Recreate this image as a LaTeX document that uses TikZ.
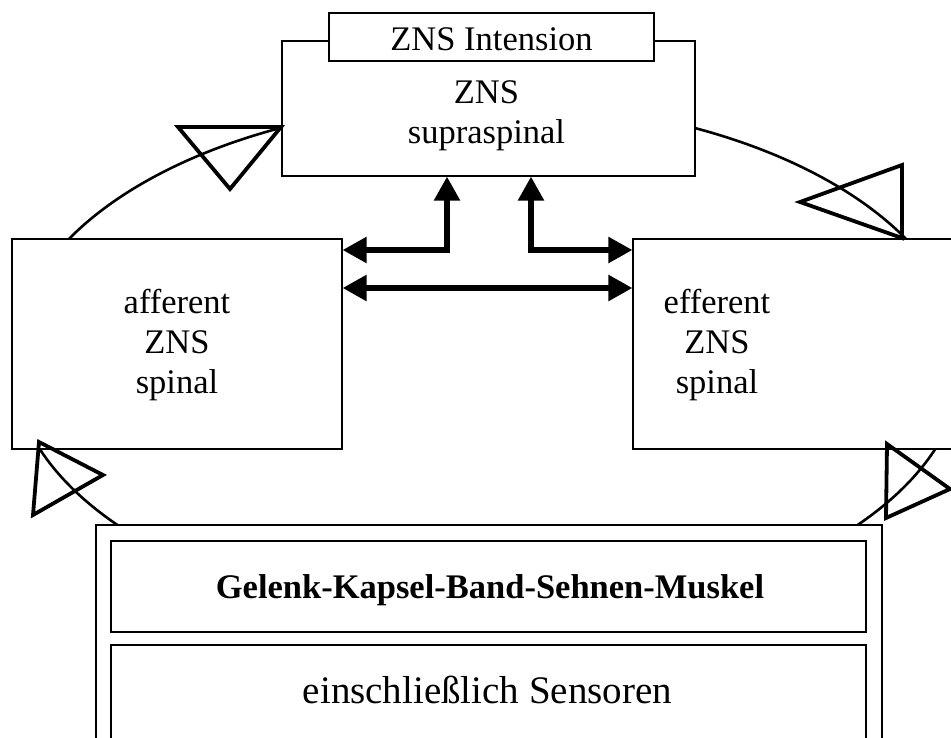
\documentclass[tikz,border=0pt]{standalone}
\usepackage{fontspec}
\setmainfont{Liberation Serif}
\usetikzlibrary{arrows.meta}
\begin{document}
\begin{tikzpicture}[x=1pt,y=-1pt,
  box/.style={draw, line width=1.2pt, fill=white, inner sep=0pt, rectangle},
  txt/.style={anchor=base, inner sep=0pt, font=\fontsize{34.5}{40}\selectfont},
  bigtxt/.style={anchor=base, inner sep=0pt, font=\fontsize{39}{44}\selectfont},
  tri/.style={line width=3.8pt, line join=miter},
  conn/.style={line width=5.5pt, line join=miter, {Triangle[length=24pt,width=25pt]}-{Triangle[length=24pt,width=25pt]}},
  loopline/.style={line width=2.6pt}]
\useasboundingbox (0,0) rectangle (951,737);
\clip (0,0) rectangle (951,737);
% feedback loop
\draw[loopline] (487.5,362) ellipse [x radius=475pt, y radius=260pt];
% boxes
\node[box, minimum width=413pt, minimum height=135pt] (supra) at (488.5,108.5) {};
\node[box, minimum width=325pt, minimum height=48pt] (intens) at (491.5,37) {};
\node[box, minimum width=330pt, minimum height=210pt] (aff) at (177,344) {};
\node[box, minimum width=357pt, minimum height=210pt] (eff) at (811.5,344) {};
\node[box, minimum width=786pt, minimum height=245pt] (bottom) at (489,647.5) {};
\node[box, minimum width=755pt, minimum height=91pt] (gelenk) at (488.5,586.5) {};
\node[box, minimum width=755pt, minimum height=125pt] (sensor) at (488.5,707.5) {};
% connectors
\coordinate (c1) at (447,250);
\coordinate (c2) at (531,250);
\coordinate (c3) at (488,288);
\draw[conn] (c1 |- supra.south) -- (c1) -- (c1 -| aff.east);
\draw[conn] (c2 |- supra.south) -- (c2) -- (c2 -| eff.west);
\draw[conn] (c3 -| aff.east) -- (c3 -| eff.west);
% open arrowheads on the loop
\draw[tri] (178,127) -- (281,127) -- (230,189) -- cycle;
\draw[tri] (902,165) -- (902,238) -- (800,202) -- cycle;
\draw[tri] (39,442) -- (103,475) -- (33,515) -- cycle;
\draw[tri] (887,444) -- (950,489) -- (886,518) -- cycle;
% texts
\node[txt] (tInt) at (491.5,50) {ZNS Intension};
\node[txt] (tSupZ) at (486.5,103) {ZNS};
\node[txt] (tSupS) at (486.5,143) {supraspinal};
\node[txt] (tAffA) at (177,313) {afferent};
\node[txt] (tAffZ) at (177,353) {ZNS};
\node[txt] (tAffS) at (177,393) {spinal};
\node[txt] (tEffE) at (717,313) {efferent};
\node[txt] (tEffZ) at (717,353) {ZNS};
\node[txt] (tEffS) at (717,393) {spinal};
\node[txt, font=\fontsize{34.5}{40}\selectfont\bfseries] (tGel) at (490,598) {Gelenk-Kapsel-Band-Sehnen-Muskel};
\node[bigtxt] (tSens) at (487.5,703) {einschließlich Sensoren};
\end{tikzpicture}
\end{document}
